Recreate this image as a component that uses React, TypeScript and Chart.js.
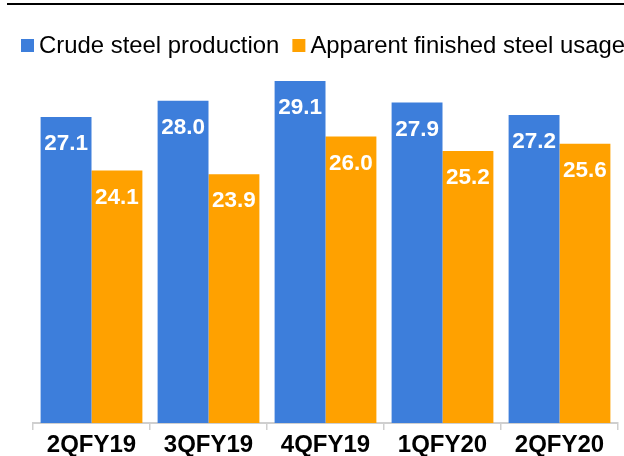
import React, { useEffect, useRef } from "react";
import { Chart, registerables } from "chart.js";

Chart.register(...registerables);

const categories = ["2QFY19", "3QFY19", "4QFY19", "1QFY20", "2QFY20"];
const crudeSteel = [27.1, 28.0, 29.1, 27.9, 27.2];
const finishedSteel = [24.1, 23.9, 26.0, 25.2, 25.6];
const seriesNames = ["Crude steel production", "Apparent finished steel usage"];
const seriesColors = ["#3D7EDB", "#FFA100"];

const FONT = "'Liberation Sans', Arial, sans-serif";

const topRule = {
  id: "topRule",
  afterDraw(chart: any) {
    const ctx = chart.ctx;
    ctx.save();
    ctx.strokeStyle = "#000000";
    ctx.lineWidth = 2;
    ctx.beginPath();
    ctx.moveTo(7, 4);
    ctx.lineTo(chart.width, 4);
    ctx.stroke();
    ctx.restore();
  },
};

const customLegend = {
  id: "customLegend",
  afterDraw(chart: any) {
    const ctx = chart.ctx;
    ctx.save();
    ctx.font = `23.9px ${FONT}`;
    ctx.textBaseline = "middle";
    ctx.textAlign = "left";
    let x = 21;
    const yMid = 45.5;
    chart.data.datasets.forEach((ds: any) => {
      ctx.fillStyle = ds.backgroundColor;
      ctx.fillRect(x, yMid - 6.5, 13, 13);
      ctx.fillStyle = "#000000";
      const tx = x + 18;
      ctx.fillText(ds.label, tx, yMid + 1);
      x = tx + ctx.measureText(ds.label).width + 13;
    });
    ctx.restore();
  },
};

const valueLabels = {
  id: "valueLabels",
  afterDatasetsDraw(chart: any) {
    const ctx = chart.ctx;
    ctx.save();
    ctx.font = `bold 22.5px ${FONT}`;
    ctx.fillStyle = "#FFFFFF";
    ctx.textAlign = "center";
    ctx.textBaseline = "middle";
    chart.data.datasets.forEach((ds: any, di: number) => {
      const meta = chart.getDatasetMeta(di);
      meta.data.forEach((bar: any, i: number) => {
        ctx.fillText(ds.data[i].toFixed(1), bar.x, bar.y + 27);
      });
    });
    ctx.restore();
  },
};

export default function App() {
  const ref = useRef<HTMLCanvasElement>(null);
  useEffect(() => {
    document.body.style.margin = "0";
    const chart = new Chart(ref.current!, {
      type: "bar",
      data: {
        labels: categories,
        datasets: [
          {
            label: seriesNames[0],
            data: crudeSteel,
            backgroundColor: seriesColors[0],
            barPercentage: 1,
            categoryPercentage: 0.87,
          },
          {
            label: seriesNames[1],
            data: finishedSteel,
            backgroundColor: seriesColors[1],
            barPercentage: 1,
            categoryPercentage: 0.87,
          },
        ],
      },
      options: {
        animation: false,
        responsive: false,
        maintainAspectRatio: false,
        layout: { padding: { left: 33, right: 6, top: 65, bottom: 0 } },
        plugins: {
          legend: { display: false },
          tooltip: { enabled: false },
        },
        scales: {
          x: {
            afterFit: (s: any) => {
              s.height = 33;
            },
            grid: {
              offset: true,
              drawOnChartArea: false,
              drawTicks: true,
              tickLength: 7,
              color: "#CFCFCF",
              lineWidth: 1.5,
            },
            border: { display: true, color: "#CFCFCF", width: 2 },
            ticks: {
              color: "#000000",
              padding: 1,
              font: { family: FONT, size: 24, weight: "bold" },
            },
          },
          y: {
            display: false,
            min: 10,
            max: 30,
          },
        },
      },
      plugins: [topRule, customLegend, valueLabels],
    });
    return () => chart.destroy();
  }, []);
  return (
    <div style={{ width: 624, height: 456, background: "#FFFFFF" }}>
      <canvas ref={ref} width={624} height={456} style={{ display: "block" }} />
    </div>
  );
}
